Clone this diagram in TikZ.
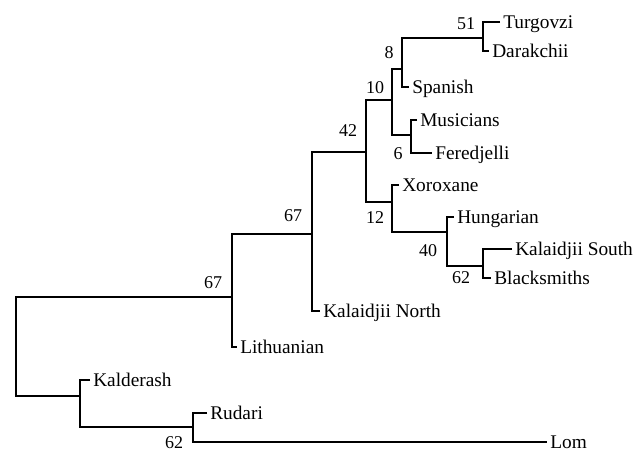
\documentclass[tikz,border=0pt]{standalone}
\usepackage{fontspec}
\setmainfont{Liberation Serif}
\begin{document}
\begin{tikzpicture}[x=0.75pt,y=-0.75pt,
  branch/.style={line width=0.9pt, line join=miter},
  leaf/.style={anchor=west, inner xsep=2.25pt, inner ysep=0pt,
    font=\fontsize{14.5}{16}\selectfont, text height=9.6pt, text depth=0pt},
  boot/.style={inner sep=0pt, font=\fontsize{13.5}{15}\selectfont,
    text height=9pt, text depth=0pt}]
\useasboundingbox (0,0) rectangle (642,451);
% internal nodes
\coordinate (R) at (16,346);
\coordinate (A) at (232,297);
\coordinate (B) at (312,234);
\coordinate (C) at (366,152);
\coordinate (D) at (392,100);
\coordinate (E) at (402,69);
\coordinate (F) at (483,38);
\coordinate (G) at (411,135);
\coordinate (H) at (392,202);
\coordinate (I) at (447,232);
\coordinate (J) at (483,266);
\coordinate (K) at (80,396);
\coordinate (L) at (193,427);
% leaves
\node[leaf] (turg) at (500,22) {Turgovzi};
\node[leaf] (dar) at (489,51) {Darakchii};
\node[leaf] (spa) at (409,87) {Spanish};
\node[leaf] (mus) at (417,120) {Musicians};
\node[leaf] (fer) at (432,153) {Feredjelli};
\node[leaf] (xor) at (399,185) {Xoroxane};
\node[leaf] (hun) at (454,217) {Hungarian};
\node[leaf] (kals) at (512,249) {Kalaidjii South};
\node[leaf] (bla) at (491,278) {Blacksmiths};
\node[leaf] (kaln) at (320,311) {Kalaidjii North};
\node[leaf] (lit) at (237,347) {Lithuanian};
\node[leaf] (kald) at (90,380) {Kalderash};
\node[leaf] (rud) at (207,413) {Rudari};
\node[leaf] (lom) at (547,442) {Lom};
% branches
\draw[branch] (A) -| (R) |- (K);
\draw[branch] (B) -| (A) |- (lit.west);
\draw[branch] (C) -| (B) |- (kaln.west);
\draw[branch] (D) -| (C) |- (H);
\draw[branch] (E) -| (D) |- (G);
\draw[branch] (F) -| (E) |- (spa.west);
\draw[branch] (turg.west) -| (F) |- (dar.west);
\draw[branch] (mus.west) -| (G) |- (fer.west);
\draw[branch] (xor.west) -| (H) |- (I);
\draw[branch] (hun.west) -| (I) |- (J);
\draw[branch] (kals.west) -| (J) |- (bla.west);
\draw[branch] (kald.west) -| (K) |- (L);
\draw[branch] (rud.west) -| (L) |- (lom.west);
% bootstrap values
\node[boot] (bF) at (466,23) {51};
\node[boot] (bE) at (389,52) {8};
\node[boot] (bD) at (375,87) {10};
\node[boot] (bG) at (398,153) {6};
\node[boot] (bH) at (375,217) {12};
\node[boot] (bI) at (428,250) {40};
\node[boot] (bJ) at (461,277) {62};
\node[boot] (bC) at (348,130) {42};
\node[boot] (bB) at (293,215) {67};
\node[boot] (bA) at (213,282) {67};
\node[boot] (bL) at (174,442) {62};
\end{tikzpicture}
\end{document}
